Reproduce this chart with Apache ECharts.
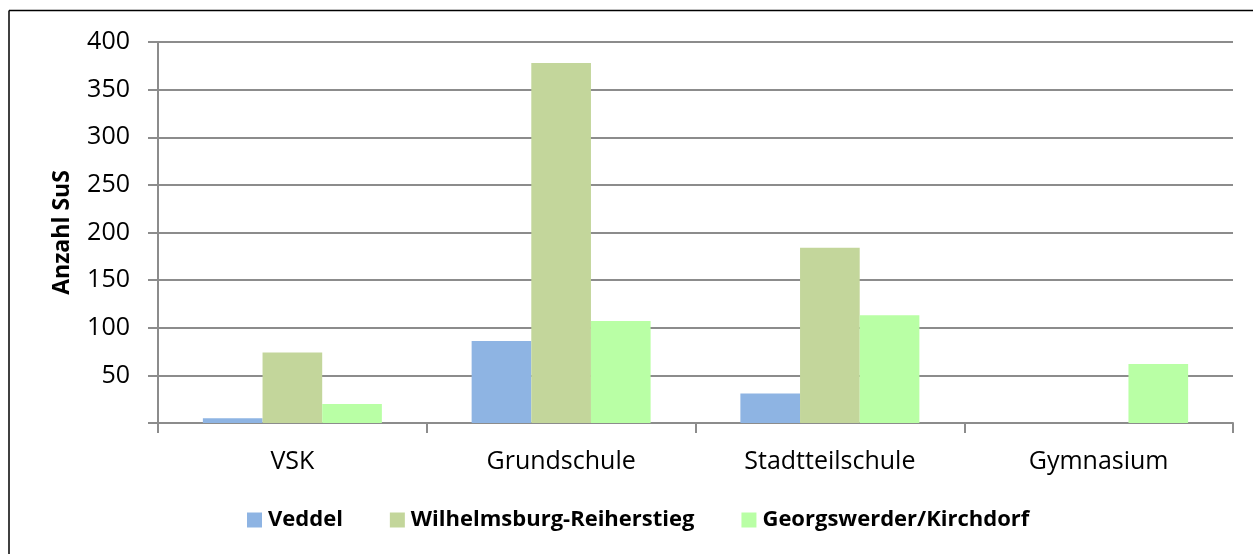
<!DOCTYPE html>
<html>
<head>
<meta charset="utf-8">
<script src="https://cdn.jsdelivr.net/npm/echarts@6/dist/echarts.min.js"></script>
<style>
html,body{margin:0;padding:0;background:#fff;}
#chart{width:1253px;height:554px;}
</style>
</head>
<body>
<div id="chart"></div>
<script>
const categories = ['VSK', 'Grundschule', 'Stadtteilschule', 'Gymnasium'];
const seriesNames = ['Veddel', 'Wilhelmsburg-Reiherstieg', 'Georgswerder/Kirchdorf'];
const veddel = [5, 86, 31, null];
const wilhelmsburg = [74, 378, 184, null];
const georgswerder = [20, 107, 113, 62];
const seriesColors = ['#8EB4E3', '#C3D69B', '#B9FFA5'];
const yAxisName = 'Anzahl SuS';

const FONT = 'Open Sans';
const chart = echarts.init(document.getElementById('chart'), null, {renderer: 'canvas'});
const dataSets = [veddel, wilhelmsburg, georgswerder];

chart.setOption({
  animation: false,
  backgroundColor: '#ffffff',
  grid: {left: 158, right: 20, top: 42, bottom: 131, containLabel: false},
  graphic: [
    {type: 'line', shape: {x1: 9, y1: 10.5, x2: 1253, y2: 10.5}, style: {stroke: '#000', lineWidth: 1.5}},
    {type: 'line', shape: {x1: 9, y1: 10.5, x2: 9, y2: 554}, style: {stroke: '#000', lineWidth: 1.5}}
  ],
  legend: {
    left: 242,
    top: 504,
    itemWidth: 15,
    itemHeight: 15,
    itemGap: 47,
    icon: 'rect',
    textStyle: {fontFamily: FONT, fontWeight: 'bold', fontSize: 22, color: '#000', padding: [0, 0, 0, 1]},
    data: seriesNames
  },
  xAxis: {
    type: 'category',
    data: categories,
    axisLine: {show: true, lineStyle: {color: '#8c8c8c', width: 2}},
    axisTick: {show: true, alignWithLabel: false, length: 10, lineStyle: {color: '#8c8c8c', width: 2}},
    axisLabel: {fontFamily: FONT, fontSize: 25, color: '#000', margin: 26},
    splitLine: {show: false}
  },
  yAxis: {
    type: 'value',
    min: 0,
    max: 400,
    interval: 50,
    name: yAxisName,
    nameLocation: 'middle',
    nameGap: 84,
    nameRotate: 90,
    nameTextStyle: {fontFamily: FONT, fontWeight: 'bold', fontSize: 23, color: '#000'},
    axisLine: {show: true, lineStyle: {color: '#8c8c8c', width: 2}},
    axisTick: {show: true, inside: false, length: 10, lineStyle: {color: '#8c8c8c', width: 2}},
    axisLabel: {
      fontFamily: FONT, fontSize: 25, color: '#000', margin: 28,
      formatter: v => (v === 0 ? '' : String(v))
    },
    splitLine: {show: true, lineStyle: {color: '#8c8c8c', width: 2}}
  },
  series: dataSets.map((d, i) => ({
    name: seriesNames[i],
    type: 'bar',
    data: d,
    barGap: '0%',
    barCategoryGap: '33.4%',
    itemStyle: {color: seriesColors[i]}
  }))
});
</script>
</body>
</html>
